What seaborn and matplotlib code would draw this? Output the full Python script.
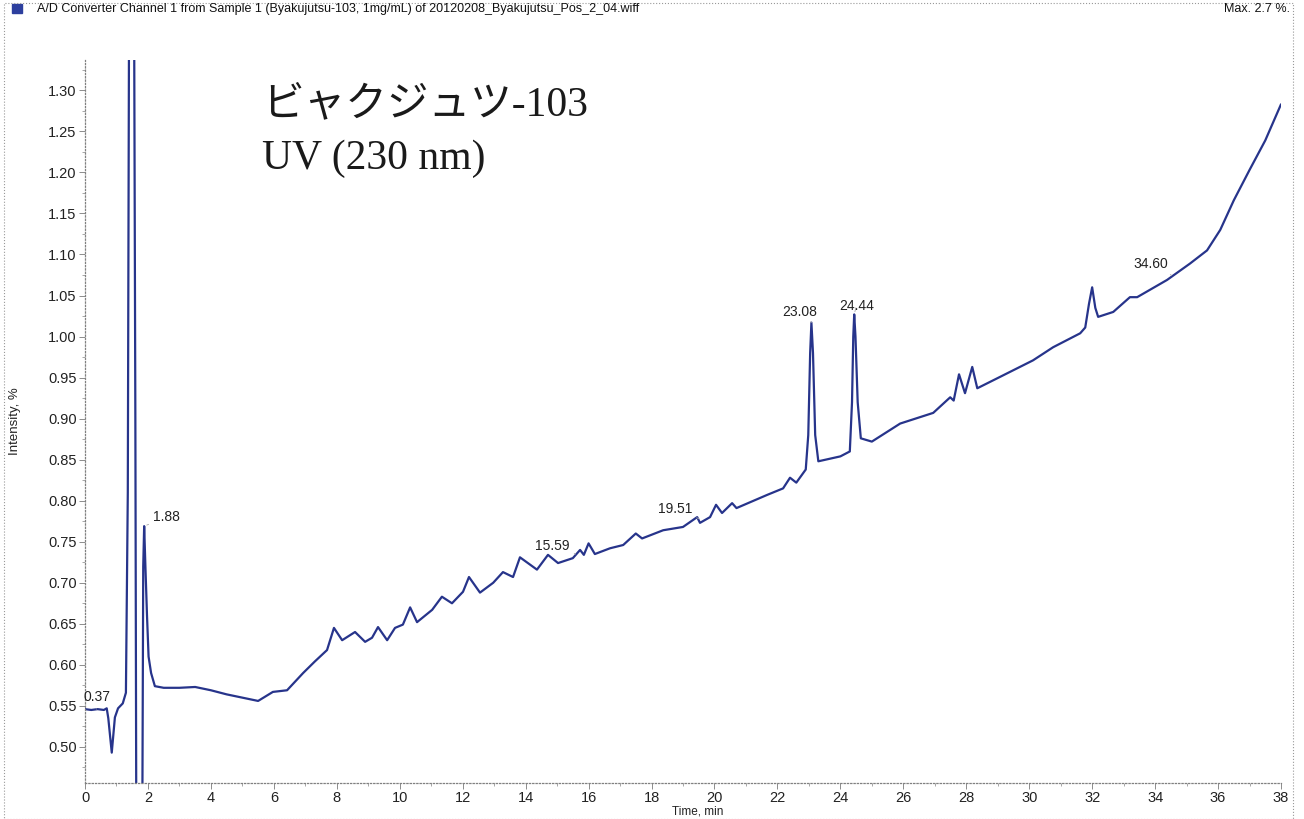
import matplotlib
matplotlib.use("Agg")

import matplotlib.pyplot as plt
import seaborn as sns
import pandas as pd
from matplotlib.patches import Rectangle
from matplotlib.ticker import MultipleLocator, FormatStrFormatter

# UV 230 nm trace (time in min, intensity in %)
time_min = [0.0, 0.2, 0.4, 0.6, 0.69, 0.74, 0.85, 0.95, 1.05, 1.2, 1.3,
            1.36, 1.40, 1.48, 1.56, 1.60, 1.63, 1.82, 1.85, 1.88, 1.92,
            1.97, 2.02, 2.1, 2.22, 2.5, 3.0, 3.5, 4.0, 4.5, 5.0, 5.5,
            5.97, 6.42, 6.93, 7.3, 7.69, 7.91, 8.17, 8.58, 8.9, 9.12,
            9.31, 9.6, 9.85, 10.1, 10.33, 10.55, 11.03, 11.34, 11.66,
            12.01, 12.2, 12.55, 12.97, 13.28, 13.6, 13.82, 14.36, 14.71,
            15.03, 15.5, 15.73, 15.85, 16.0, 16.2, 16.68, 17.1, 17.5,
            17.7, 18.37, 19.0, 19.45, 19.54, 19.86, 20.05, 20.24, 20.56,
            20.7, 21.67, 22.18, 22.4, 22.6, 22.9, 22.98, 23.04, 23.08,
            23.13, 23.2, 23.3, 24.0, 24.3, 24.37, 24.41, 24.44, 24.48,
            24.55, 24.65, 25.0, 25.9, 26.95, 27.49, 27.6, 27.77, 27.96,
            28.19, 28.35, 29.08, 30.12, 30.76, 31.62, 31.78, 31.9, 32.0,
            32.1, 32.19, 32.67, 33.2, 33.43, 34.38, 35.11, 35.65, 36.07,
            36.5, 37.0, 37.5, 38.0]
intensity = [0.546, 0.545, 0.546, 0.545, 0.547, 0.535, 0.493, 0.536, 0.547,
             0.553, 0.566, 0.81, 1.40, 2.70, 1.40, 0.90, 0.40, 0.40, 0.72,
             0.769, 0.719, 0.66, 0.61, 0.59, 0.574, 0.572, 0.572, 0.573,
             0.569, 0.564, 0.560, 0.556, 0.567, 0.569, 0.590, 0.604, 0.618,
             0.645, 0.630, 0.640, 0.628, 0.633, 0.646, 0.630, 0.645, 0.649,
             0.670, 0.652, 0.667, 0.683, 0.675, 0.689, 0.707, 0.688, 0.700,
             0.713, 0.707, 0.731, 0.716, 0.734, 0.724, 0.730, 0.740, 0.734,
             0.748, 0.735, 0.742, 0.746, 0.760, 0.754, 0.764, 0.768, 0.780,
             0.773, 0.780, 0.795, 0.785, 0.797, 0.791, 0.807, 0.815, 0.828,
             0.822, 0.838, 0.88, 0.98, 1.017, 0.98, 0.88, 0.848, 0.854,
             0.860, 0.92, 1.00, 1.027, 1.00, 0.92, 0.876, 0.872, 0.894,
             0.907, 0.926, 0.922, 0.954, 0.931, 0.963, 0.937, 0.951, 0.971,
             0.987, 1.004, 1.011, 1.040, 1.060, 1.035, 1.024, 1.030, 1.048,
             1.048, 1.069, 1.089, 1.105, 1.130, 1.166, 1.203, 1.239, 1.283]

peak_labels = ["0.37", "1.88", "15.59", "19.51", "23.08", "24.44", "34.60"]
peak_times = [0.37, 1.88, 15.59, 19.51, 23.08, 24.44, 34.60]
peak_heights = [0.546, 0.769, 0.735, 0.778, 1.017, 1.027, 1.073]

y_ticks = [0.50, 0.55, 0.60, 0.65, 0.70, 0.75, 0.80, 0.85, 0.90, 0.95,
           1.00, 1.05, 1.10, 1.15, 1.20, 1.25, 1.30]
x_ticks = list(range(0, 39, 2))

df = pd.DataFrame({"time": time_min, "intensity": intensity})

sns.set_theme(style="white")
plt.rcParams["font.family"] = ["Liberation Sans", "DejaVu Sans"]

W, H = 1304, 819
fig = plt.figure(figsize=(W / 100, H / 100), dpi=100)
ax = fig.add_axes([85 / W, 36 / H, (1281 - 85) / W, (783 - 60) / H])

sns.lineplot(data=df, x="time", y="intensity", ax=ax, color="#27348b",
             linewidth=1.6, estimator=None, sort=False)

ax.set_xlim(0, 38)
ax.set_ylim(0.456, 1.337)
ax.set_xticks(x_ticks)
ax.set_yticks(y_ticks)
ax.yaxis.set_major_formatter(FormatStrFormatter("%.2f"))
ax.xaxis.set_minor_locator(MultipleLocator(1))
ax.yaxis.set_minor_locator(MultipleLocator(0.025))
ax.tick_params(which="major", direction="out", length=4, width=0.7,
               color="0.55", labelsize=10.5, labelcolor="#222222", pad=2)
ax.tick_params(which="minor", direction="out", length=2, width=0.6, color="0.6")
ax.tick_params(axis="x", bottom=True, which="both")
ax.tick_params(axis="y", left=True, which="both")
ax.set_xlabel("")
ax.set_ylabel("")
for side in ["top", "right"]:
    ax.spines[side].set_visible(False)
for side in ["left", "bottom"]:
    ax.spines[side].set_linestyle(":")
    ax.spines[side].set_color("0.5")
    ax.spines[side].set_linewidth(0.9)

# peak labels with little leader lines (offsets in pixels)
label_offsets = [(-13, 12, "left"), (9, 9, "left"), (-6, 8, "right"),
                 (-7, 10, "right"), (-12, 11, "center"), (2, 8, "center"),
                 (-6, 13, "right")]
for lab, t, h, (dx, dy, ha) in zip(peak_labels, peak_times, peak_heights,
                                   label_offsets):
    ax.annotate(lab, xy=(t, h), xytext=(dx, dy), textcoords="offset pixels",
                ha=ha, va="center", fontsize=10, color="#222222",
                arrowprops=dict(arrowstyle="-", color="0.65", lw=0.6,
                                shrinkA=1, shrinkB=2))

fig.text(698 / W, 1 - 811 / H, "Time, min", ha="center", va="center",
         fontsize=8.5, color="#222222")
fig.text(15 / W, 1 - 421 / H, "Intensity, %", ha="center", va="center",
         rotation=90, fontsize=9.5, color="#222222")

# header line
fig.add_artist(Rectangle((12 / W, 1 - 13 / H), 10 / W, 9 / H,
                         transform=fig.transFigure, color="#2d3f9e"))
fig.text(37 / W, 1 - 9 / H,
         "A/D Converter Channel 1 from Sample 1 (Byakujutsu-103, 1mg/mL) of "
         "20120208_Byakujutsu_Pos_2_04.wiff",
         ha="left", va="center", fontsize=9, color="#111111")
fig.text(1290 / W, 1 - 9 / H, "Max. 2.7 %.", ha="right", va="center",
         fontsize=9, color="#111111")

# sample name written on the chart
serif_jp = ["Liberation Serif", "Noto Sans CJK JP"]
fig.text(262 / W, 1 - 105 / H, "ビャクジュツ-103", ha="left", va="center",
         fontsize=30, family=serif_jp, color="#1a1a1a")
fig.text(262 / W, 1 - 159 / H, "UV (230 nm)", ha="left", va="center",
         fontsize=30, family=serif_jp, color="#1a1a1a")

# dotted outer frame
fig.add_artist(Rectangle((4 / W, 0.0), (1293 - 4) / W, 1 - 3 / H,
                         transform=fig.transFigure, fill=False, ls=":",
                         ec="0.6", lw=0.8))

fig.savefig("out.png", dpi=100)
